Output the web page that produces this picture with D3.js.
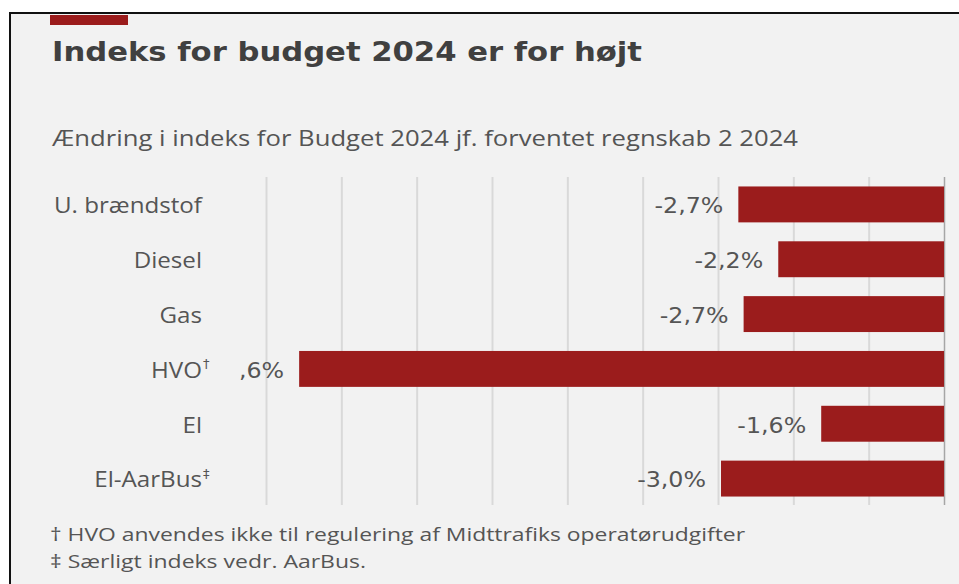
<!DOCTYPE html>
<html>
<head>
<meta charset="utf-8">
<script src="https://cdn.jsdelivr.net/npm/d3@7"></script>
<style>
    body { margin: 0; background: #fff; }
    text { fill: #555; }
</style>
</head>
<body>
<div id="chart"></div>
<script>
var categories = ['U. brændstof', 'Diesel', 'Gas', 'HVO', 'El', 'El-AarBus'];
var marks = ['', '', '', '†', '', '‡'];
var values = [-2.73, -2.2, -2.66, -8.56, -1.63, -2.96];
var gridTicks = [-9, -8, -7, -6, -5, -4, -3, -2, -1, 0];
var title = 'Indeks for budget 2024 er for højt';
var subtitle = 'Ændring i indeks for Budget 2024 jf. forventet regnskab 2 2024';
var notes = ['† HVO anvendes ikke til regulering af Midttrafiks operatørudgifter',
             '‡ Særligt indeks vedr. AarBus.'];

var W = 959, H = 584;
var rows = categories.map((c, i) => ({ cat: c, mark: marks[i], value: values[i] }));

var da = d3.formatLocale({ decimal: ',', thousands: '.', grouping: [3], currency: ['', ' kr.'], minus: '-' });
var fmt = da.format('.1f');

var svg = d3.select('#chart').append('svg')
    .attr('width', W)
    .attr('height', H);

// panel
svg.append('rect')
    .attr('x', 10).attr('y', 13)
    .attr('width', W + 20).attr('height', H + 20)
    .attr('fill', '#f2f2f2')
    .attr('stroke', '#111')
    .attr('stroke-width', 2);

svg.append('rect')
    .attr('x', 50).attr('y', 15)
    .attr('width', 78).attr('height', 10)
    .attr('fill', '#9b1c1c');

// stretch text to a given width
function fit(sel, w) {
    sel.attr('textLength', w).attr('lengthAdjust', 'spacingAndGlyphs');
}

function widen(k) {
    return function () {
        var w = this.getComputedTextLength();
        d3.select(this).call(fit, w * k);
    };
}

svg.append('text')
    .attr('x', 52).attr('y', 61)
    .style('font-family', 'DejaVu Sans')
    .style('font-weight', 'bold')
    .style('font-size', '27px')
    .style('fill', '#404040')
    .text(title)
    .call(fit, 590);

svg.append('text')
    .attr('x', 52).attr('y', 146)
    .style('font-family', 'Open Sans')
    .style('font-size', '22px')
    .text(subtitle)
    .call(fit, 746);

var x = d3.scaleLinear().domain([-9, 0]).range([266, 944]);
var y = d3.scaleBand().domain(categories).range([177, 506])
    .paddingInner(0.345).paddingOuter(0.1725);

// grid
var grid = svg.append('g')
    .attr('transform', 'translate(0,177)')
    .call(d3.axisBottom(x).tickValues(gridTicks).tickSize(328).tickFormat(''));
grid.select('.domain').remove();
grid.selectAll('.tick line')
    .attr('stroke', d => d === 0 ? '#a6a6a6' : '#d9d9d9')
    .attr('stroke-width', d => d === 0 ? 1.5 : 2);

// bars
svg.selectAll('.bar')
    .data(rows)
    .enter()
    .append('rect')
    .attr('class', 'bar')
    .attr('x', d => x(d.value))
    .attr('y', d => y(d.cat))
    .attr('width', d => x(0) - x(d.value))
    .attr('height', y.bandwidth())
    .attr('fill', '#9b1c1c');

svg.append('clipPath').attr('id', 'plotclip')
    .append('rect').attr('x', 238.5).attr('y', 150).attr('width', 740).attr('height', 380);

svg.append('g')
    .attr('clip-path', 'url(#plotclip)')
    .selectAll('.val')
    .data(rows)
    .enter()
    .append('text')
    .attr('class', 'val')
    .attr('x', d => x(d.value) - 15)
    .attr('y', d => y(d.cat) + y.bandwidth() / 2)
    .attr('dy', '0.42em')
    .attr('text-anchor', 'end')
    .style('font-family', 'DejaVu Sans')
    .style('font-size', '21px')
    .text(d => fmt(d.value) + '%')
    .each(widen(1.13));

// category labels
var cat = svg.selectAll('.cat')
    .data(rows)
    .enter()
    .append('g')
    .attr('class', 'cat')
    .attr('transform', d => 'translate(202,' + (y(d.cat) + y.bandwidth() / 2) + ')');

cat.append('text')
    .attr('dy', '0.42em')
    .attr('text-anchor', 'end')
    .style('font-family', 'Open Sans')
    .style('font-size', '21px')
    .text(d => d.cat)
    .each(widen(1.15));

cat.filter(d => d.mark)
    .append('text')
    .attr('x', 1)
    .attr('dy', '-0.05em')
    .style('font-family', 'DejaVu Sans')
    .style('font-size', '13px')
    .text(d => d.mark);

svg.selectAll('.note')
    .data(notes)
    .enter()
    .append('text')
    .attr('class', 'note')
    .attr('x', 50)
    .attr('y', (d, i) => 541 + i * 27)
    .style('font-family', 'Open Sans')
    .style('font-size', '19px')
    .text(d => d)
    .each(function (d, i) {
        d3.select(this).call(fit, i === 0 ? 695 : 316);
    });
</script>
</body>
</html>
